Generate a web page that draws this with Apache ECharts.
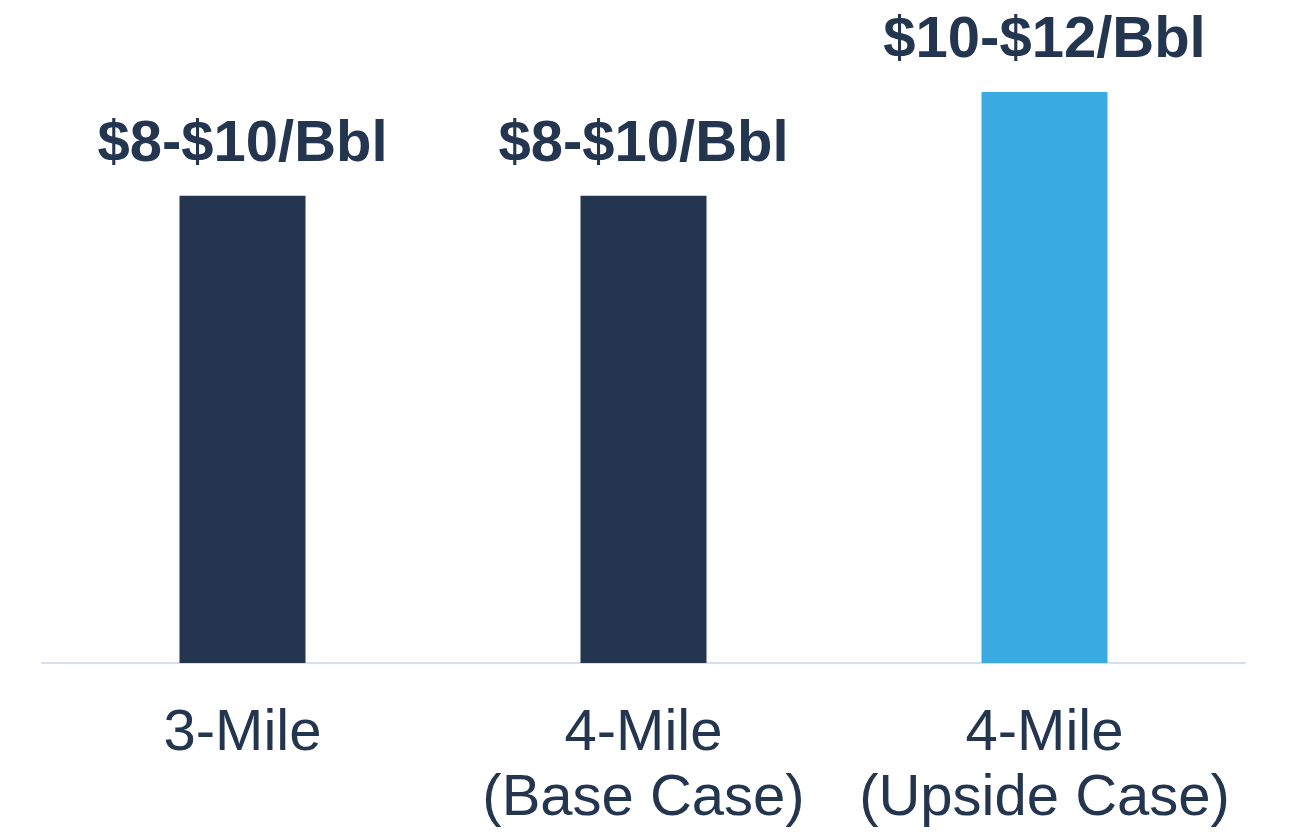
<!DOCTYPE html>
<html>
<head>
<meta charset="utf-8">
<script src="https://cdn.jsdelivr.net/npm/echarts@6/dist/echarts.min.js"></script>
<style>
  html, body { margin: 0; padding: 0; background: #fff; }
  #chart { width: 1291px; height: 834px; }
</style>
</head>
<body>
<div id="chart"></div>
<script>
// categories and values (midpoint of each $/Bbl range)
const categories = ['3-Mile', '4-Mile\n(Base Case)', '4-Mile\n(Upside Case)'];
const values = [9, 9, 11];
const valueLabels = ['$8-$10/Bbl', '$8-$10/Bbl', '$10-$12/Bbl'];
const barColors = ['#243550', '#243550', '#3aabe1'];

const chart = echarts.init(document.getElementById('chart'));

chart.setOption({
  animation: false,
  grid: { left: 42, right: 46, top: 40, bottom: 171 },
  xAxis: {
    type: 'category',
    data: categories,
    axisLine: { lineStyle: { color: '#d6dfee', width: 2 } },
    axisTick: { show: false },
    axisLabel: {
      color: '#243550',
      fontFamily: 'Liberation Sans, Arial, sans-serif',
      fontSize: 58,
      lineHeight: 65,
      margin: 38,
      interval: 0
    }
  },
  yAxis: {
    type: 'value',
    min: 0,
    max: 12,
    show: false,
    splitLine: { show: false }
  },
  series: [{
    type: 'bar',
    barWidth: 126,
    data: values.map((v, i) => ({
      value: v,
      itemStyle: { color: barColors[i] },
      label: { formatter: valueLabels[i] }
    })),
    label: {
      show: true,
      position: 'top',
      distance: 22,
      color: '#243550',
      fontFamily: 'Liberation Sans, Arial, sans-serif',
      fontWeight: 'bold',
      fontSize: 58
    }
  }]
});
</script>
</body>
</html>
